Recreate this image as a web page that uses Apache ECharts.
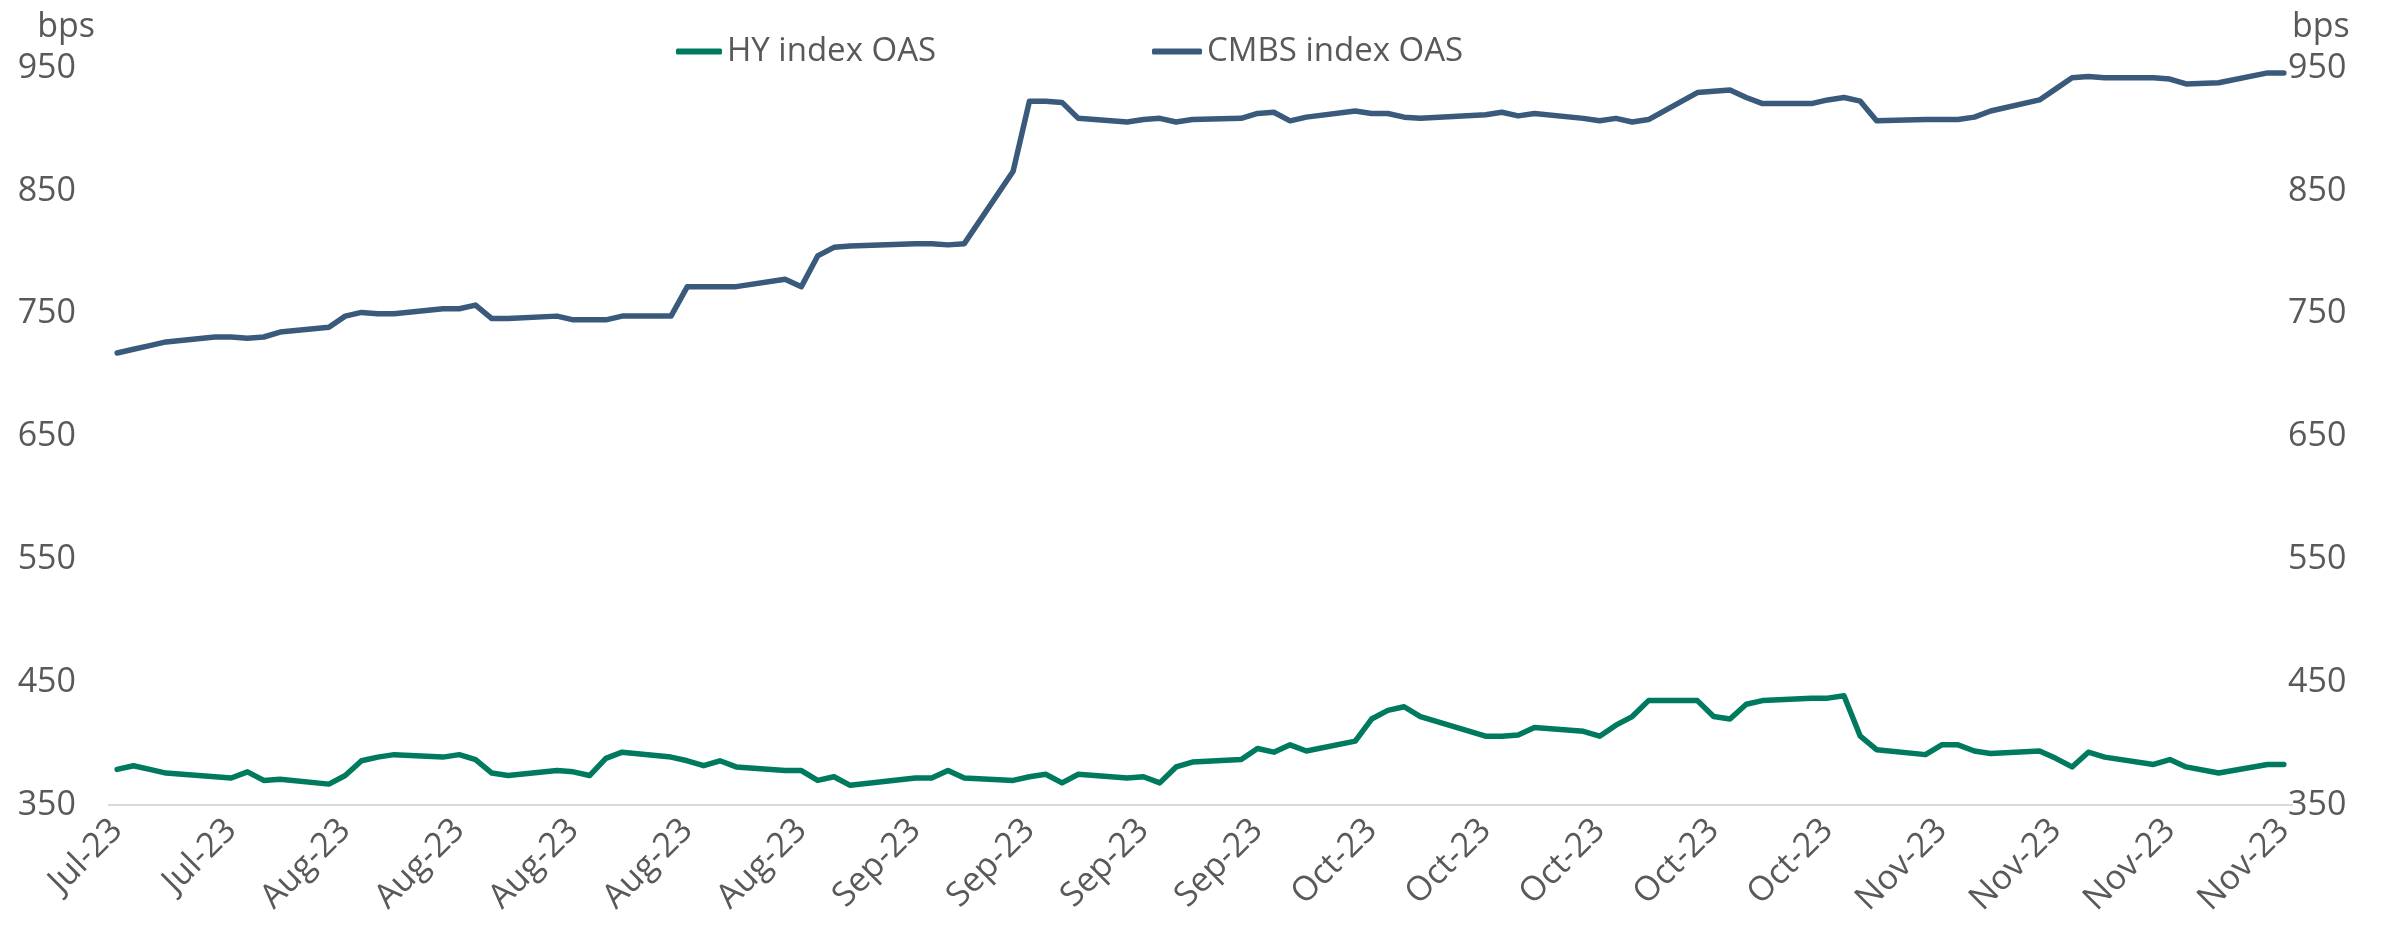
<!DOCTYPE html>
<html>
<head>
<meta charset="utf-8">
<script src="https://cdn.jsdelivr.net/npm/echarts@6/dist/echarts.min.js"></script>
<style>
  html, body { margin: 0; padding: 0; background: #ffffff; }
  #chart { width: 2392px; height: 938px; }
</style>
</head>
<body>
<div id="chart"></div>
<script>
// Trading days (bond market sessions), Jul 18 - Nov 28, 2023
const tradeDates = [
  '2023-07-18','2023-07-19','2023-07-20','2023-07-21','2023-07-24','2023-07-25','2023-07-26','2023-07-27','2023-07-28','2023-07-31',
  '2023-08-01','2023-08-02','2023-08-03','2023-08-04','2023-08-07','2023-08-08','2023-08-09','2023-08-10','2023-08-11','2023-08-14',
  '2023-08-15','2023-08-16','2023-08-17','2023-08-18','2023-08-21','2023-08-22','2023-08-23','2023-08-24','2023-08-25','2023-08-28',
  '2023-08-29','2023-08-30','2023-08-31',
  '2023-09-01','2023-09-05','2023-09-06','2023-09-07','2023-09-08','2023-09-11','2023-09-12','2023-09-13','2023-09-14','2023-09-15',
  '2023-09-18','2023-09-19','2023-09-20','2023-09-21','2023-09-22','2023-09-25','2023-09-26','2023-09-27','2023-09-28','2023-09-29',
  '2023-10-02','2023-10-03','2023-10-04','2023-10-05','2023-10-06','2023-10-10','2023-10-11','2023-10-12','2023-10-13','2023-10-16',
  '2023-10-17','2023-10-18','2023-10-19','2023-10-20','2023-10-23','2023-10-24','2023-10-25','2023-10-26','2023-10-27','2023-10-30',
  '2023-10-31',
  '2023-11-01','2023-11-02','2023-11-03','2023-11-06','2023-11-07','2023-11-08','2023-11-09','2023-11-10','2023-11-13','2023-11-14',
  '2023-11-15','2023-11-16','2023-11-17','2023-11-20','2023-11-21','2023-11-22','2023-11-24','2023-11-27','2023-11-28'
];

// HY index option-adjusted spread, bps
const hyOAS = [
  379,382,379,376,373,372,377,370,371,367,
  374,386,389,391,389,391,387,376,374,378,377,374,388,393,389,386,382,386,381,378,378,370,373,
  366,372,372,378,372,370,373,375,368,375,372,373,368,381,385,387,396,393,399,394,
  402,420,427,430,422,406,406,407,413,410,406,415,422,435,435,422,420,432,435,437,437,
  439,406,395,391,399,399,394,392,394,388,381,393,389,383,387,381,376,383,383
];

// CMBS index option-adjusted spread, bps
const cmbsOAS = [
  718,721,724,727,731,731,730,731,735,739,
  748,751,750,750,754,754,757,746,746,748,745,745,745,748,748,772,772,772,772,778,772,797,804,
  805,807,807,806,807,866,923,923,922,909,906,908,909,906,908,909,913,914,907,910,
  915,913,913,910,909,912,914,911,913,909,907,909,906,908,930,931,932,926,921,921,924,
  926,923,907,908,908,908,910,915,924,933,942,943,942,942,941,937,938,946,946
];

// Weekly tick labels along the date axis
const tickLabels = [
  'Jul-23','Jul-23','Aug-23','Aug-23','Aug-23','Aug-23','Aug-23',
  'Sep-23','Sep-23','Sep-23','Sep-23',
  'Oct-23','Oct-23','Oct-23','Oct-23','Oct-23',
  'Nov-23','Nov-23','Nov-23','Nov-23'
];

const yTicks = { min: 350, max: 950, interval: 100 };

// Calendar-day axis: every day gets a slot, non-trading days stay empty
const DAY = 86400000;
const toUTC = s => { const p = s.split('-').map(Number); return Date.UTC(p[0], p[1] - 1, p[2]); };
const start = toUTC(tradeDates[0]);
const end = toUTC(tradeDates[tradeDates.length - 1]);
const calendar = [];
for (let t = start; t <= end; t += DAY) calendar.push(new Date(t).toISOString().slice(0, 10));
const slot = {};
calendar.forEach((d, i) => { slot[d] = i; });
const hySeries = calendar.map(() => null);
const cmbsSeries = calendar.map(() => null);
tradeDates.forEach((d, k) => {
  hySeries[slot[d]] = hyOAS[k];
  cmbsSeries[slot[d]] = cmbsOAS[k];
});

const FONT = 'Open Sans';
const FS = 34;
const TEXT = '#595959';
const HY_COLOR = '#007A5E';
const CMBS_COLOR = '#3A5A7C';

const chart = echarts.init(document.getElementById('chart'), null, { renderer: 'canvas' });

const yAxisCommon = {
  type: 'value',
  min: yTicks.min,
  max: yTicks.max,
  interval: yTicks.interval,
  name: 'bps',
  nameLocation: 'end',
  nameGap: 24,
  splitLine: { show: false },
  axisLine: { show: false },
  axisTick: { show: false }
};

chart.setOption({
  animation: false,
  backgroundColor: '#ffffff',
  textStyle: { fontFamily: FONT },
  grid: { left: 109, right: 100, top: 68, bottom: 133, containLabel: false },
  legend: [
    {
      data: ['HY index OAS'],
      left: 671, top: 30,
      icon: 'roundRect', itemWidth: 46, itemHeight: 6,
      textStyle: { fontFamily: FONT, fontSize: 33, color: TEXT }
    },
    {
      data: ['CMBS index OAS'],
      left: 1147, top: 30,
      icon: 'roundRect', itemWidth: 50, itemHeight: 6,
      textStyle: { fontFamily: FONT, fontSize: 33, color: TEXT }
    }
  ],
  xAxis: {
    type: 'category',
    data: calendar,
    boundaryGap: true,
    axisLine: { show: true, lineStyle: { color: '#D9D9D9', width: 2 } },
    axisTick: { show: false },
    axisLabel: {
      interval: (idx) => idx % 7 === 0,
      formatter: (val, idx) => tickLabels[Math.round(idx / 7)],
      rotate: 45,
      margin: 20,
      fontFamily: FONT,
      fontSize: FS,
      color: TEXT
    },
    splitLine: { show: false }
  },
  yAxis: [
    Object.assign({}, yAxisCommon, {
      position: 'left',
      axisLabel: { margin: 33, fontFamily: FONT, fontSize: FS, color: TEXT },
      nameTextStyle: { fontFamily: FONT, fontSize: FS, color: TEXT, align: 'right', padding: [0, 14, 0, 0] }
    }),
    Object.assign({}, yAxisCommon, {
      position: 'right',
      axisLabel: { margin: -4, fontFamily: FONT, fontSize: FS, color: TEXT },
      nameTextStyle: { fontFamily: FONT, fontSize: FS, color: TEXT, align: 'left', padding: [0, 0, 0, 0] }
    })
  ],
  series: [
    {
      name: 'HY index OAS',
      type: 'line',
      yAxisIndex: 0,
      data: hySeries,
      connectNulls: true,
      showSymbol: false,
      symbol: 'none',
      lineStyle: { color: HY_COLOR, width: 5.5, join: 'round', cap: 'round' },
      itemStyle: { color: HY_COLOR }
    },
    {
      name: 'CMBS index OAS',
      type: 'line',
      yAxisIndex: 0,
      data: cmbsSeries,
      connectNulls: true,
      showSymbol: false,
      symbol: 'none',
      lineStyle: { color: CMBS_COLOR, width: 5.5, join: 'round', cap: 'round' },
      itemStyle: { color: CMBS_COLOR }
    }
  ]
});
</script>
</body>
</html>
